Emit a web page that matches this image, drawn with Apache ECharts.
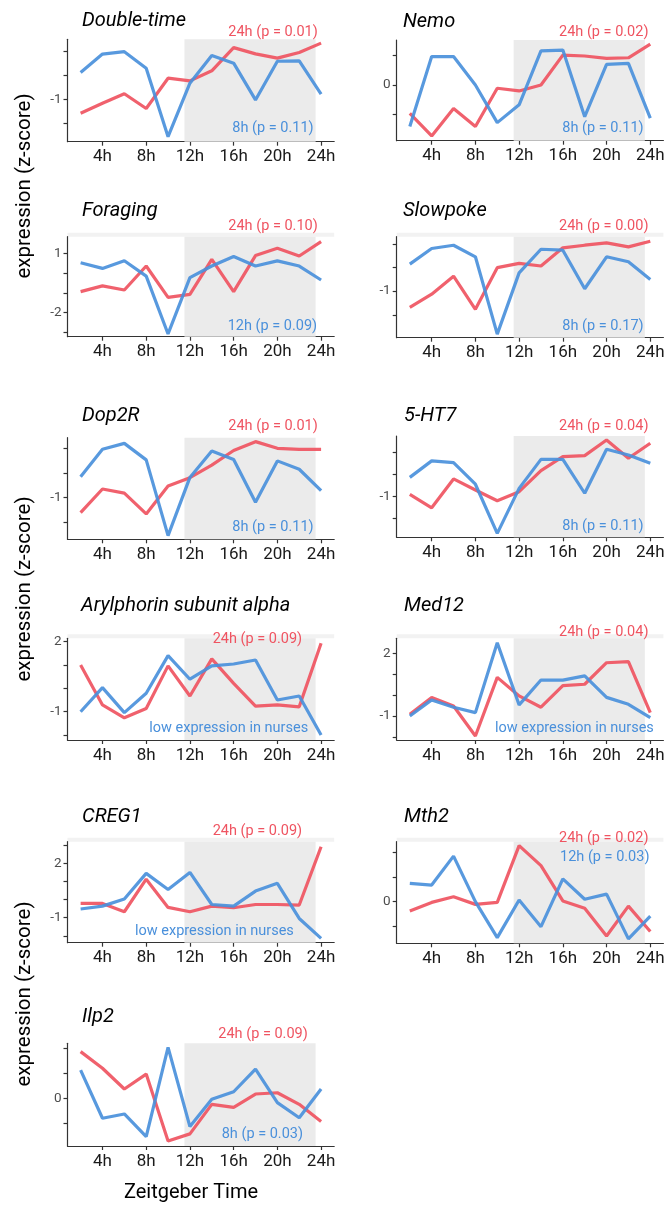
<!DOCTYPE html>
<html>
<head>
<meta charset="utf-8">
<script src="https://cdn.jsdelivr.net/npm/echarts@6/dist/echarts.min.js"></script>
<style>
  html, body { margin: 0; padding: 0; background: #ffffff; }
  #chart { width: 665px; height: 1205px; }
</style>
</head>
<body>
<div id="chart"></div>
<script>
// Sampling times (Zeitgeber time, hours) and x tick positions
const hours = [2, 4, 6, 8, 10, 12, 14, 16, 18, 20, 22, 24];
const xTickHours = [4, 8, 12, 16, 20, 24];
const darkPhase = [11.5, 23.5];

const geneNames = ['Double-time', 'Nemo', 'Foraging', 'Slowpoke', 'Dop2R', '5-HT7',
  'Arylphorin subunit alpha', 'Med12', 'CREG1', 'Mth2', 'Ilp2'];

// Expression z-scores: foragers (red) and nurses (blue)
const doubleTimeForager = [-1.58, -1.16, -0.76, -1.38, -0.11, -0.22, 0.20, 1.17, 0.91, 0.73, 0.97, 1.36];
const doubleTimeNurse   = [0.13, 0.90, 1.00, 0.31, -2.56, -0.32, 0.84, 0.52, -1.02, 0.60, 0.62, -0.78];
const nemoForager       = [-0.96, -1.72, -0.79, -1.40, -0.11, -0.20, 0.00, 1.01, 0.98, 0.90, 0.92, 1.38];
const nemoNurse         = [-1.40, 0.96, 0.96, 0.00, -1.27, -0.67, 1.15, 1.18, -1.07, 0.70, 0.73, -1.12];
const foragingForager   = [-0.93, -0.64, -0.85, 0.37, -1.22, -1.07, 0.71, -0.93, 0.90, 1.27, 0.88, 1.61];
const foragingNurse     = [0.54, 0.25, 0.64, -0.14, -3.08, -0.22, 0.37, 0.85, 0.37, 0.63, 0.37, -0.34];
const slowpokeForager   = [-1.69, -1.13, -0.37, -1.77, -0.01, 0.17, 0.06, 0.83, 0.94, 1.04, 0.87, 1.11];
const slowpokeNurse     = [0.14, 0.80, 0.94, 0.45, -2.82, -0.23, 0.77, 0.73, -0.90, 0.45, 0.24, -0.51];
const dop2rForager      = [-1.61, -0.65, -0.82, -1.66, -0.53, -0.19, 0.32, 0.91, 1.27, 1.00, 0.96, 0.96];
const dop2rNurse        = [-0.15, 0.96, 1.20, 0.53, -2.54, -0.18, 0.89, 0.55, -1.19, 0.49, 0.15, -0.72];
const ht7Forager        = [-0.91, -1.52, -0.21, -0.71, -1.20, -0.79, 0.17, 0.80, 0.85, 1.56, 0.73, 1.41];
const ht7Nurse          = [-0.14, 0.61, 0.53, -0.45, -2.68, -0.64, 0.68, 0.68, -0.86, 1.14, 0.88, 0.50];
const arylphorinForager = [1.00, -0.71, -1.26, -0.86, 0.96, -0.33, 1.26, 0.21, -0.76, -0.71, -0.79, 1.93];
const arylphorinNurse   = [-1.00, 0.03, -1.04, -0.21, 1.40, 0.39, 0.96, 1.04, 1.21, -0.50, -0.33, -2.00];
const med12Forager      = [-0.92, -0.11, -0.52, -1.96, 0.85, -0.04, -0.58, 0.45, 0.52, 1.55, 1.60, -0.84];
const med12Nurse        = [-1.00, -0.23, -0.58, -0.84, 2.51, -0.47, 0.72, 0.72, 0.92, -0.11, -0.44, -1.08];
const creg1Forager      = [-0.21, -0.21, -0.67, 1.13, -0.43, -0.67, -0.36, -0.45, -0.27, -0.27, -0.30, 2.92];
const creg1Nurse        = [-0.52, -0.36, 0.03, 1.45, 0.56, 1.50, -0.27, -0.36, 0.47, 0.90, -1.04, -2.14];
const mth2Forager       = [-0.38, -0.03, 0.20, -0.11, -0.03, 2.29, 1.47, 0.03, -0.27, -1.40, -0.18, -1.22];
const mth2Nurse         = [0.75, 0.68, 1.86, 0.00, -1.47, 0.07, -1.02, 0.93, 0.10, 0.31, -1.52, -0.59];
const ilp2Forager       = [1.85, 1.19, 0.37, 0.96, -1.69, -1.41, -0.24, -0.36, 0.17, 0.22, -0.24, -0.92];
const ilp2Nurse         = [1.12, -0.79, -0.62, -1.52, 2.02, -1.12, -0.04, 0.26, 1.16, -0.17, -0.77, 0.37];

const foragerSeries = [doubleTimeForager, nemoForager, foragingForager, slowpokeForager, dop2rForager,
  ht7Forager, arylphorinForager, med12Forager, creg1Forager, mth2Forager, ilp2Forager];
const nurseSeries = [doubleTimeNurse, nemoNurse, foragingNurse, slowpokeNurse, dop2rNurse,
  ht7Nurse, arylphorinNurse, med12Nurse, creg1Nurse, mth2Nurse, ilp2Nurse];

// Rhythm test annotations
const foragerNotes = ['24h (p = 0.01)', '24h (p = 0.02)', '24h (p = 0.10)', '24h (p = 0.00)', '24h (p = 0.01)',
  '24h (p = 0.04)', '24h (p = 0.09)', '24h (p = 0.04)', '24h (p = 0.09)', '24h (p = 0.02)', '24h (p = 0.09)'];
const nurseNotes = ['8h (p = 0.11)', '8h (p = 0.11)', '12h (p = 0.09)', '8h (p = 0.17)', '8h (p = 0.11)',
  '8h (p = 0.11)', 'low expression in nurses', 'low expression in nurses', 'low expression in nurses',
  '12h (p = 0.03)', '8h (p = 0.03)'];

// Y axis ticks, labelled ticks and ranges per panel
const yTicks = [[-2, -1, 0, 1], [-1, 0, 1], [-3, -2, -1, 0, 1], [-2, -1, 0, 1], [-2, -1, 0, 1], [-2, -1, 0, 1],
  [-2, -1, 0, 1, 2], [-2, -1, 0, 1, 2], [-2, -1, 0, 1, 2, 3], [-1, 0, 1, 2], [-1, 0, 1, 2]];
const yTickLabels = [[-1], [0], [1, -2], [-1], [-1], [-1], [2, -1], [2, -1], [2, -1], [0], [0]];
const yRanges = [[-2.77, 1.52], [-1.88, 1.52], [-3.22, 1.86], [-2.97, 1.30], [-2.69, 1.43], [-2.86, 1.74],
  [-2.21, 2.14], [-2.15, 2.72], [-2.38, 3.20], [-1.70, 2.45], [-1.89, 2.18]];
const xRange = [0.8, 25.2];

// ---- layout (pixels) ----
const COL_LEFT = [67.5, 396.7];
const GRID_W = 266.7;
// [column, top, bottom]
const panelBox = [[0, 39.3, 141.7], [1, 40, 140.7], [0, 236.7, 336.7], [1, 236.7, 337.7],
  [0, 437.7, 539.3], [1, 436, 537.3], [0, 638.3, 740], [1, 638.3, 740],
  [0, 841.7, 942.7], [1, 841.7, 943.3], [0, 1043.3, 1146]];
// title [x, y]
const titlePos = [[82, 20.5], [403, 21.5], [82, 211], [403, 211], [82, 416], [404, 416],
  [81, 606], [404, 606], [82, 817], [404, 817], [82, 1017]];
// annotation [x, y] (left aligned)
const foragerNotePos = [[228.3, 32.5], [559, 32], [228.3, 226.7], [559, 226.7], [228.3, 426.5], [559, 426.5],
  [212.7, 639.5], [559, 632], [212.7, 831.5], [559, 838.5], [218.3, 1034]];
const nurseNotePos = [[232.3, 128], [562.3, 128], [227.7, 326], [562.3, 326], [232.3, 527], [562.3, 526],
  [149.3, 728], [495, 728], [135, 931.7], [560, 857.5], [221.7, 1134]];
const topBandPanels = [2, 3, 6, 7, 8, 9];

const RED = '#EF5461';
const BLUE = '#4A90DB';
const FONT = 'Roboto';

const grids = [], xAxes = [], yAxes = [], series = [], graphics = [];

panelBox.forEach(function (box, i) {
  const left = COL_LEFT[box[0]];
  const top = box[1];
  const height = box[2] - box[1];
  grids.push({ left: left, top: top, width: GRID_W, height: height, outerBoundsMode: 'none', containLabel: false });

  xAxes.push({
    type: 'value', gridIndex: i, min: xRange[0], max: xRange[1],
    axisLine: { show: true, onZero: false, lineStyle: { color: '#333333', width: 1.2 } },
    axisTick: { show: true, length: 4, customValues: xTickHours, lineStyle: { color: '#333333', width: 1.2 } },
    axisLabel: {
      show: true, customValues: xTickHours, margin: 7,
      formatter: function (v) { return v + 'h'; },
      color: '#1a1a1a', fontFamily: FONT, fontSize: 17
    },
    splitLine: { show: false }
  });

  yAxes.push({
    type: 'value', gridIndex: i, min: yRanges[i][0], max: yRanges[i][1],
    axisLine: { show: true, onZero: false, lineStyle: { color: '#333333', width: 1.2 } },
    axisTick: { show: true, length: 4, customValues: yTicks[i], lineStyle: { color: '#333333', width: 1.2 } },
    axisLabel: {
      show: true, customValues: yTickLabels[i], margin: 6,
      color: '#4d4d4d', fontFamily: FONT, fontSize: 13.5
    },
    splitLine: { show: false }
  });

  // dark phase shading
  series.push({
    type: 'line', xAxisIndex: i, yAxisIndex: i, data: [], z: 1, silent: true,
    markArea: {
      silent: true,
      itemStyle: { color: '#ebebeb' },
      data: [[{ xAxis: darkPhase[0] }, { xAxis: darkPhase[1] }]]
    }
  });

  series.push({
    type: 'line', xAxisIndex: i, yAxisIndex: i, z: 3, showSymbol: false, silent: true,
    data: hours.map(function (h, k) { return [h, foragerSeries[i][k]]; }),
    lineStyle: { color: RED, width: 3.2, opacity: 0.92 }, itemStyle: { color: RED }
  });
  series.push({
    type: 'line', xAxisIndex: i, yAxisIndex: i, z: 4, showSymbol: false, silent: true,
    data: hours.map(function (h, k) { return [h, nurseSeries[i][k]]; }),
    lineStyle: { color: BLUE, width: 3.2, opacity: 0.92 }, itemStyle: { color: BLUE }
  });

  if (topBandPanels.indexOf(i) >= 0) {
    graphics.push({
      type: 'rect', z: 0, silent: true,
      shape: { x: left, y: top - 4, width: GRID_W, height: 4 },
      style: { fill: '#f2f2f2' }
    });
  }

  graphics.push({
    type: 'text', x: titlePos[i][0], y: titlePos[i][1], silent: true,
    style: { text: geneNames[i], fill: '#000000', font: 'italic 20px ' + FONT, textAlign: 'left', textVerticalAlign: 'middle' }
  });
  graphics.push({
    type: 'text', x: foragerNotePos[i][0], y: foragerNotePos[i][1], silent: true, z: 10,
    style: { text: foragerNotes[i], fill: RED, font: '14.5px ' + FONT, textAlign: 'left', textVerticalAlign: 'middle' }
  });
  graphics.push({
    type: 'text', x: nurseNotePos[i][0], y: nurseNotePos[i][1], silent: true, z: 10,
    style: { text: nurseNotes[i], fill: BLUE, font: '14.5px ' + FONT, textAlign: 'left', textVerticalAlign: 'middle' }
  });
});

// shared axis titles
[186, 589, 994].forEach(function (cy) {
  graphics.push({
    type: 'text', x: 25, y: cy, rotation: Math.PI / 2, silent: true,
    style: { text: 'expression (z-score)', fill: '#000000', font: '20.5px ' + FONT, textAlign: 'center', textVerticalAlign: 'middle' }
  });
});
graphics.push({
  type: 'text', x: 191, y: 1193, silent: true,
  style: { text: 'Zeitgeber Time', fill: '#000000', font: '20px ' + FONT, textAlign: 'center', textVerticalAlign: 'middle' }
});

const chart = echarts.init(document.getElementById('chart'), null, { renderer: 'canvas' });
chart.setOption({
  animation: false,
  backgroundColor: '#ffffff',
  grid: grids,
  xAxis: xAxes,
  yAxis: yAxes,
  series: series,
  graphic: { elements: graphics }
});
</script>
</body>
</html>
